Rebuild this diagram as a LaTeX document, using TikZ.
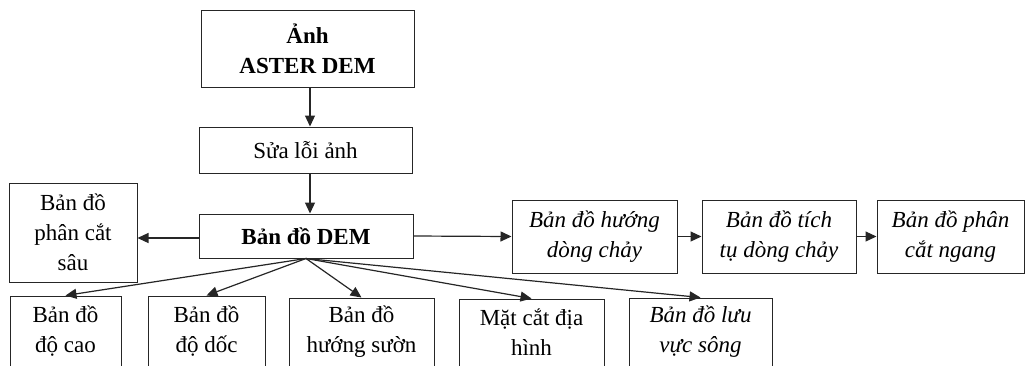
\documentclass[tikz,border=0pt]{standalone}
\usepackage{fontspec}
\setmainfont{Liberation Serif}
\usetikzlibrary{arrows.meta}
\begin{document}
\begin{tikzpicture}[x=1pt,y=-1pt,
  bx/.style={draw=black!85,line width=1pt,align=center,inner sep=0pt,
    font=\fontsize{23}{30}\selectfont},
  arr/.style={draw=black!85,line width=1.2pt,-{Triangle[length=11pt,width=10pt]}}]
\useasboundingbox (0,0) rectangle (1027,365);
\clip (0,0) rectangle (1027,365);
\node[bx,minimum width=213pt,minimum height=77pt] (top) at (307.5,48.5) {\textbf{Ảnh}\\\textbf{ASTER DEM}};
\node[bx,minimum width=213pt,minimum height=46pt] (fix) at (305.5,150) {Sửa lỗi ảnh};
\node[bx,minimum width=214pt,minimum height=44pt] (dem) at (306,236) {\textbf{Bản đồ DEM}};
\node[bx,minimum width=128pt,minimum height=99pt] (deep) at (73,232.5) {Bản đồ\\phân cắt\\sâu};
\node[bx,minimum width=165pt,minimum height=73pt] (flow) at (594.5,236.5) {\itshape Bản đồ hướng\\\itshape dòng chảy};
\node[bx,minimum width=154pt,minimum height=73pt] (acc) at (779,236.5) {\itshape Bản đồ tích\\\itshape tụ dòng chảy};
\node[bx,minimum width=147pt,minimum height=73pt] (hor) at (950.5,236.5) {\itshape Bản đồ phân\\\itshape cắt ngang};
\node[bx,minimum width=111pt,minimum height=70pt] (ele) at (65.5,331) {Bản đồ\\độ cao};
\node[bx,minimum width=117pt,minimum height=70pt] (slp) at (206.5,331) {Bản đồ\\độ dốc};
\node[bx,minimum width=145pt,minimum height=68pt] (asp) at (361.5,332) {Bản đồ\\hướng sườn};
\node[bx,minimum width=145pt,minimum height=67pt] (prof) at (531.5,332.5) {Mặt cắt địa\\hình};
\node[bx,minimum width=143pt,minimum height=68pt] (basin) at (700.5,332) {\itshape Bản đồ lưu\\\itshape vực sông};
\coordinate (ax) at (310,0);
\draw[arr] (top.south -| ax) -- (fix.north -| ax);
\draw[arr] (fix.south -| ax) -- (dem.north -| ax);
\draw[arr] (dem.west |- 0,238) -- (deep.east |- 0,238);
\draw[arr] (dem.east) -- (flow.west);
\draw[arr] (flow.east) -- (acc.west);
\draw[arr] (acc.east) -- (hor.west);
\draw[arr] (dem.south) -- (ele.north);
\draw[arr] (dem.south) -- (slp.north);
\draw[arr] (dem.south) -- (asp.north);
\draw[arr] (dem.south) -- (prof.north);
\draw[arr] (dem.south) -- (basin.north);
\end{tikzpicture}
\end{document}
